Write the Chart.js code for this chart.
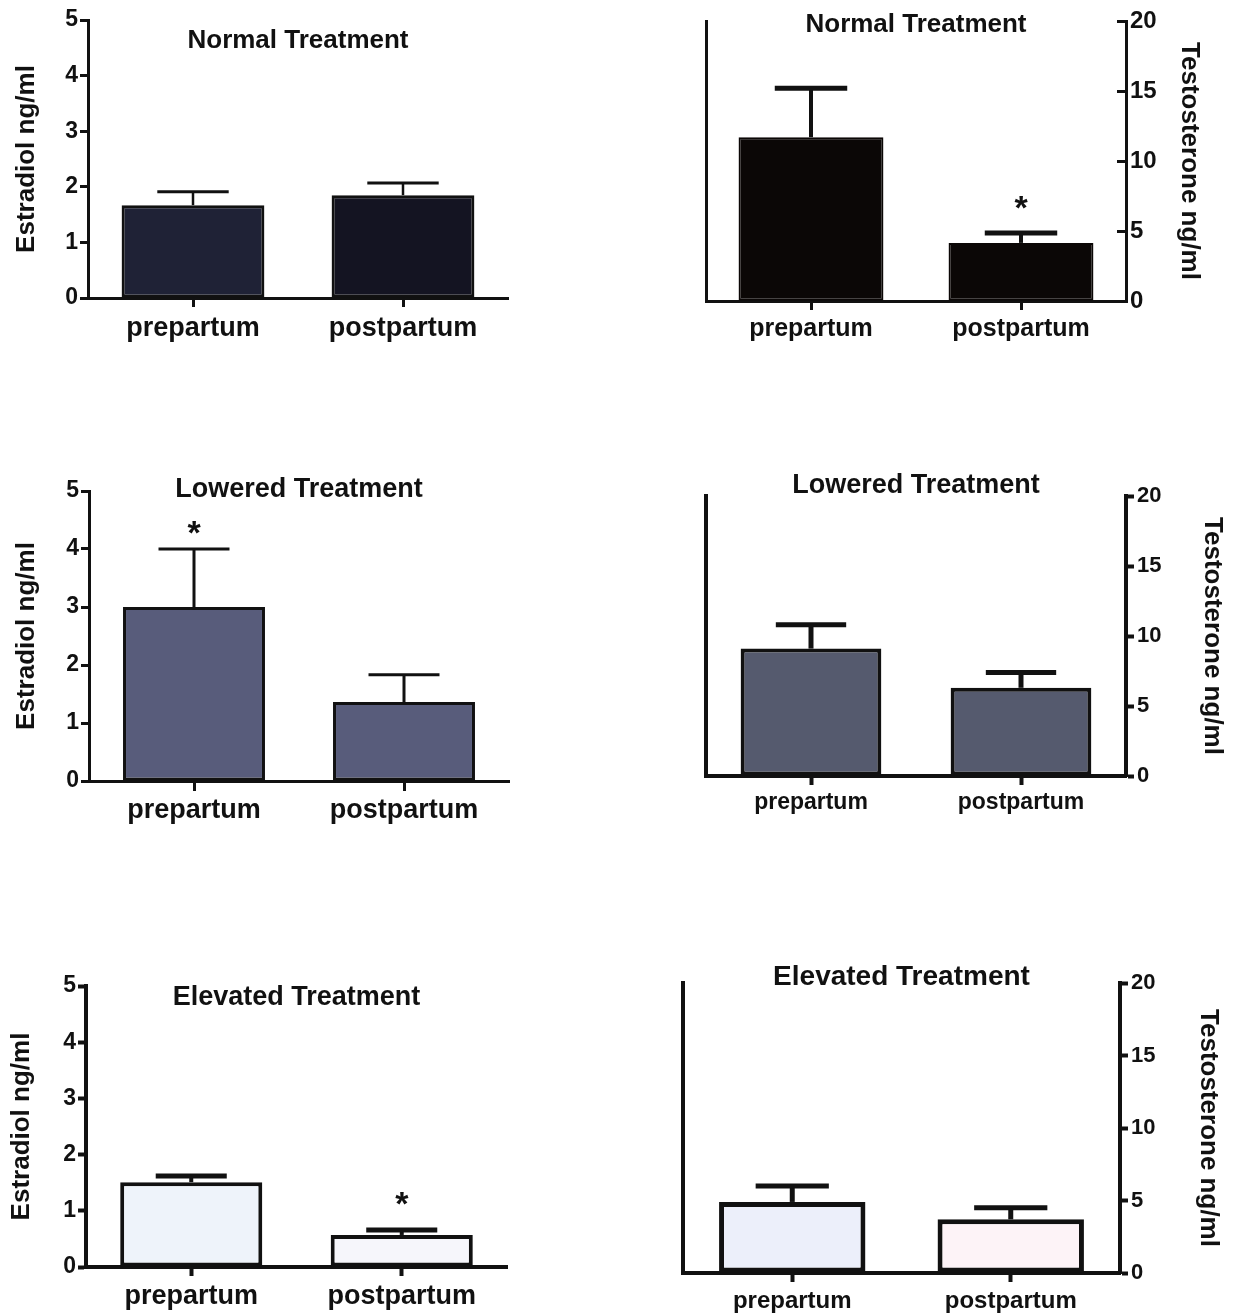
<!DOCTYPE html>
<html>
<head>
<meta charset="utf-8">
<title>Estradiol and testosterone by treatment</title>
<script src="https://cdn.jsdelivr.net/npm/chart.js@4.4.1/dist/chart.umd.min.js"></script>
<style>
  html, body { margin: 0; padding: 0; background: #fff; }
  #page { position: relative; width: 1240px; height: 1315px; overflow: hidden; background: #fff; }
  #page canvas { position: absolute; }
</style>
</head>
<body>
<div id="page">
  <canvas id="e2-normal"></canvas>
  <canvas id="t-normal"></canvas>
  <canvas id="e2-lowered"></canvas>
  <canvas id="t-lowered"></canvas>
  <canvas id="e2-elevated"></canvas>
  <canvas id="t-elevated"></canvas>
</div>
<script>
const categories = ['prepartum', 'postpartum'];

// estradiol ng/ml, mean and error
const e2Normal = [1.67, 1.85];
const e2NormalErr = [0.24, 0.22];
const e2Lowered = [3.0, 1.36];
const e2LoweredErr = [1.0, 0.47];
const e2Elevated = [1.51, 0.57];
const e2ElevatedErr = [0.11, 0.09];

// testosterone ng/ml, mean and error
const tNormal = [11.7, 4.15];
const tNormalErr = [3.5, 0.7];
const tLowered = [9.1, 6.3];
const tLoweredErr = [1.7, 1.1];
const tElevated = [4.9, 3.7];
const tElevatedErr = [1.1, 0.8];

// asterisk = significant
const e2NormalSig = [false, false];
const e2LoweredSig = [true, false];
const e2ElevatedSig = [false, true];
const tNormalSig = [false, true];
const tLoweredSig = [false, false];
const tElevatedSig = [false, false];

const e2Ticks = [0, 1, 2, 3, 4, 5];
const tTicks = [0, 5, 10, 15, 20];

const INK = '#111';
Chart.defaults.font.family = "'Liberation Sans', Arial, Helvetica, sans-serif";
Chart.defaults.font.weight = 'bold';
Chart.defaults.color = INK;

// error bars, asterisks and the panel title
const extras = {
  id: 'extras',
  afterDatasetsDraw(chart, args, opts) {
    const ctx = chart.ctx;
    const yScale = chart.scales.y;
    const ds = chart.data.datasets[0];
    const meta = chart.getDatasetMeta(0);
    ctx.save();
    ctx.strokeStyle = INK;
    ctx.fillStyle = INK;
    ctx.lineCap = 'butt';
    meta.data.forEach((bar, i) => {
      const top = yScale.getPixelForValue(ds.data[i]);
      const cap = yScale.getPixelForValue(ds.data[i] + ds.errors[i]);
      const half = bar.width / 4;
      ctx.lineWidth = opts.stemWidth;
      ctx.beginPath();
      ctx.moveTo(bar.x, top);
      ctx.lineTo(bar.x, cap);
      ctx.stroke();
      ctx.lineWidth = opts.capWidth;
      ctx.beginPath();
      ctx.moveTo(bar.x - half, cap);
      ctx.lineTo(bar.x + half, cap);
      ctx.stroke();
      if (ds.sig[i]) {
        ctx.font = `bold ${opts.starSize}px ${Chart.defaults.font.family}`;
        ctx.textAlign = 'center';
        ctx.textBaseline = 'alphabetic';
        ctx.fillText('*', bar.x, cap - opts.starGap + 0.57 * opts.starSize);
      }
    });
    ctx.restore();
  },
  afterDraw(chart, args, opts) {
    const ctx = chart.ctx;
    const area = chart.chartArea;
    ctx.save();
    ctx.fillStyle = INK;
    ctx.font = `bold ${opts.titleSize}px ${Chart.defaults.font.family}`;
    ctx.textAlign = 'center';
    ctx.textBaseline = 'alphabetic';
    ctx.fillText(opts.title, (area.left + area.right) / 2, area.top + opts.titleDy + 0.36 * opts.titleSize);
    ctx.restore();
  }
};

function buildChart(p) {
  const [bx, by, bw, bh] = p.box;
  const [al, at, ar, ab] = p.area;
  const s = p.style;
  const canvas = document.getElementById(p.id);
  canvas.width = bw;
  canvas.height = bh;
  canvas.style.left = bx + 'px';
  canvas.style.top = by + 'px';

  const yMin = p.ticks[0];
  const yMax = p.ticks[p.ticks.length - 1];
  const half = s.yTitleSize * 1.2 / 2;
  const yTitlePad = p.side === 'left' ? (p.yTitleX - bx) - half : (bx + bw - p.yTitleX) - half;

  const scales = {
    x: {
      type: 'category',
      afterFit: sc => { sc.height = by + bh - ab; sc.paddingLeft = 0; sc.paddingRight = 0; },
      border: { display: true, color: INK, width: s.axisWidth },
      grid: { display: true, offset: false, drawOnChartArea: false, drawTicks: true,
              tickLength: s.xTickLength, tickWidth: s.axisWidth, tickColor: INK },
      ticks: { font: { size: s.labelSize }, color: INK, padding: s.labelPad, maxRotation: 0, autoSkip: false }
    },
    y: {
      type: 'linear',
      position: p.side,
      min: yMin,
      max: yMax,
      afterBuildTicks: sc => { sc.ticks = p.ticks.map(v => ({ value: v })); },
      afterFit: sc => {
        sc.width = p.side === 'left' ? al - bx : bx + bw - ar;
        sc.paddingTop = 0;
        sc.paddingBottom = 0;
      },
      border: { display: true, color: INK, width: s.axisWidth },
      grid: { display: true, drawOnChartArea: false, drawTicks: true,
              tickLength: s.yTickLength, tickWidth: s.axisWidth, tickColor: INK },
      ticks: { font: { size: s.tickSize }, color: INK, padding: s.tickPad },
      title: { display: true, text: p.yTitle, color: INK, font: { size: s.yTitleSize },
               padding: { top: yTitlePad, bottom: 0 } }
    }
  };
  if (p.side === 'right') {
    // plain left frame line, no ticks
    scales.yl = {
      type: 'linear',
      position: 'left',
      min: yMin,
      max: yMax,
      afterFit: sc => { sc.width = al - bx; sc.paddingTop = 0; sc.paddingBottom = 0; },
      border: { display: true, color: INK, width: s.axisWidth },
      grid: { display: true, drawOnChartArea: false, drawTicks: false },
      ticks: { display: false }
    };
  }

  return new Chart(canvas, {
    type: 'bar',
    data: {
      labels: categories,
      datasets: [{
        data: p.values,
        errors: p.errors,
        sig: p.sig,
        backgroundColor: p.fills,
        borderColor: s.barEdge || INK,
        borderWidth: s.barBorder,
        borderSkipped: false,
        categoryPercentage: 1,
        barPercentage: s.barPct
      }]
    },
    options: {
      responsive: false,
      devicePixelRatio: 1,
      animation: false,
      events: [],
      layout: {
        padding: p.side === 'left'
          ? { left: 0, top: at - by, right: bx + bw - ar, bottom: 0 }
          : { left: 0, top: at - by, right: 0, bottom: 0 }
      },
      scales,
      plugins: {
        legend: { display: false },
        tooltip: { enabled: false },
        title: { display: false },
        extras: {
          title: p.title,
          titleSize: s.titleSize,
          titleDy: s.titleDy,
          stemWidth: s.stemWidth,
          capWidth: s.capWidth,
          starSize: 34,
          starGap: s.starGap
        }
      }
    },
    plugins: [extras]
  });
}

buildChart({
  id: 'e2-normal', side: 'left', box: [0, 0, 620, 355], area: [88, 20, 508, 298],
  title: 'Normal Treatment', yTitle: 'Estradiol ng/ml', yTitleX: 27, ticks: e2Ticks,
  values: e2Normal, errors: e2NormalErr, sig: e2NormalSig, fills: ['#1f2236', '#141422'],
  style: { axisWidth: 3, barBorder: 3, stemWidth: 2.5, capWidth: 3, barPct: 0.68,
           tickSize: 23, tickPad: 2, yTickLength: 8, xTickLength: 9, labelSize: 27, labelPad: 5,
           yTitleSize: 26, titleSize: 26, titleDy: 18.5, starGap: 30 }
});

buildChart({
  id: 't-normal', side: 'right', box: [620, 0, 620, 355], area: [706, 21, 1126, 301],
  title: 'Normal Treatment', yTitle: 'Testosterone ng/ml', yTitleX: 1189, ticks: tTicks,
  values: tNormal, errors: tNormalErr, sig: tNormalSig, fills: ['#0b0706', '#0b0706'],
  style: { axisWidth: 3, barBorder: 2, barEdge: '#0b0706', stemWidth: 4, capWidth: 5, barPct: 0.69,
           tickSize: 24, tickPad: 13, yTickLength: -9, xTickLength: 9, labelSize: 25, labelPad: 4,
           yTitleSize: 26, titleSize: 26, titleDy: 2, starGap: 33 }
});

buildChart({
  id: 'e2-lowered', side: 'left', box: [0, 440, 620, 400], area: [89, 491, 509, 781],
  title: 'Lowered Treatment', yTitle: 'Estradiol ng/ml', yTitleX: 27, ticks: e2Ticks,
  values: e2Lowered, errors: e2LoweredErr, sig: e2LoweredSig, fills: ['#585c7b', '#585c7b'],
  style: { axisWidth: 3, barBorder: 3, stemWidth: 3, capWidth: 3, barPct: 0.676,
           tickSize: 23, tickPad: 2, yTickLength: 8, xTickLength: 10, labelSize: 27, labelPad: 3,
           yTitleSize: 26, titleSize: 27, titleDy: -4, starGap: 24 }
});

buildChart({
  id: 't-lowered', side: 'right', box: [620, 440, 620, 400], area: [706, 496, 1126, 776],
  title: 'Lowered Treatment', yTitle: 'Testosterone ng/ml', yTitleX: 1212, ticks: tTicks,
  values: tLowered, errors: tLoweredErr, sig: tLoweredSig, fills: ['#555a6e', '#555a6e'],
  style: { axisWidth: 4, barBorder: 4, stemWidth: 5, capWidth: 5, barPct: 0.67,
           tickSize: 22, tickPad: 3, yTickLength: 8, xTickLength: 9, labelSize: 23, labelPad: 4,
           yTitleSize: 26, titleSize: 27, titleDy: -13, starGap: 30 }
});

buildChart({
  id: 'e2-elevated', side: 'left', box: [0, 930, 620, 385], area: [86, 986, 507, 1267],
  title: 'Elevated Treatment', yTitle: 'Estradiol ng/ml', yTitleX: 22, ticks: e2Ticks,
  values: e2Elevated, errors: e2ElevatedErr, sig: e2ElevatedSig, fills: ['#eef3fa', '#f6f6fb'],
  style: { axisWidth: 4, barBorder: 4, stemWidth: 4, capWidth: 5, barPct: 0.675,
           tickSize: 23, tickPad: 2, yTickLength: 8, xTickLength: 9, labelSize: 27, labelPad: 4,
           yTitleSize: 26, titleSize: 27, titleDy: 9, starGap: 34 }
});

buildChart({
  id: 't-elevated', side: 'right', box: [620, 930, 620, 385], area: [683, 983, 1120, 1273],
  title: 'Elevated Treatment', yTitle: 'Testosterone ng/ml', yTitleX: 1208, ticks: tTicks,
  values: tElevated, errors: tElevatedErr, sig: tElevatedSig, fills: ['#eceffa', '#fdf3f7'],
  style: { axisWidth: 4, barBorder: 5, stemWidth: 5, capWidth: 5, barPct: 0.67,
           tickSize: 22, tickPad: 3, yTickLength: 8, xTickLength: 9, labelSize: 24, labelPad: 5,
           yTitleSize: 26, titleSize: 28, titleDy: -8, starGap: 30 }
});
</script>
</body>
</html>
